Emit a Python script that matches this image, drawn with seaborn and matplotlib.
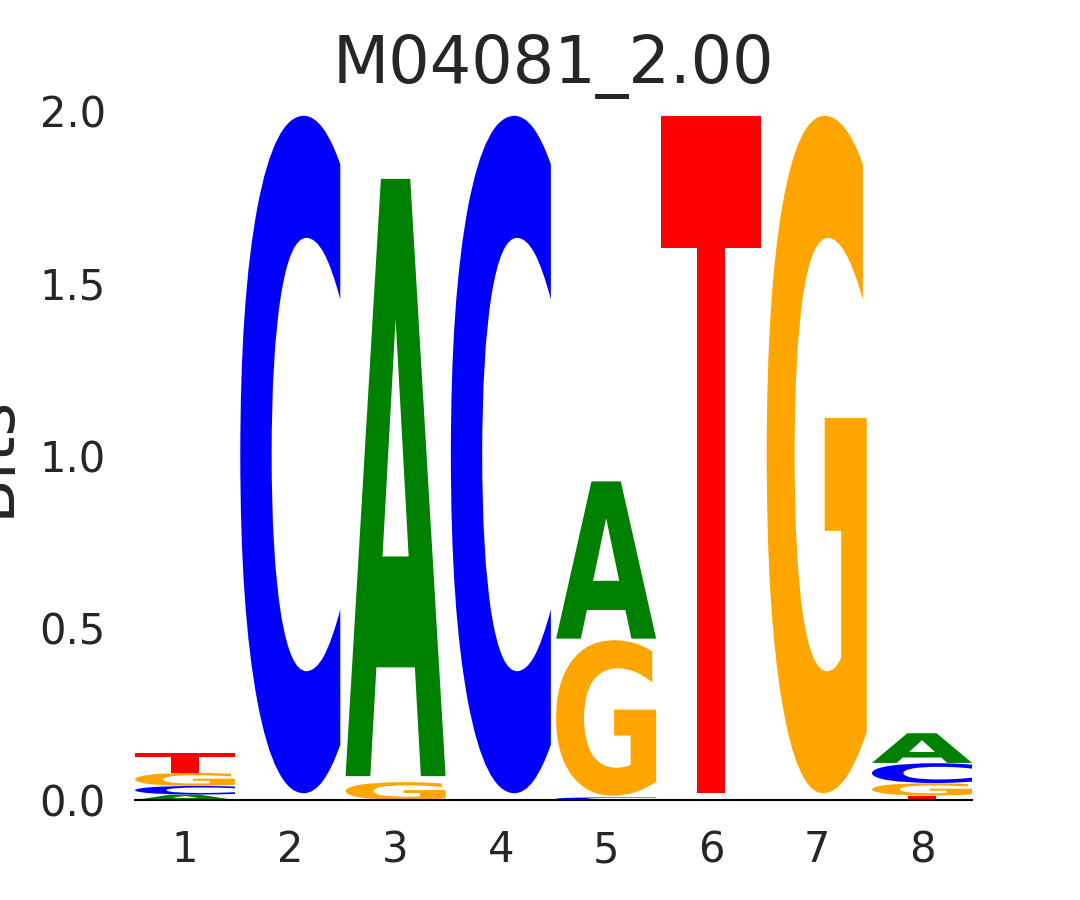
import numpy as np
import pandas as pd
import matplotlib
matplotlib.use("Agg")
import matplotlib.pyplot as plt
import seaborn as sns
from matplotlib.textpath import TextPath
from matplotlib.patches import PathPatch
from matplotlib.font_manager import FontProperties
from matplotlib.transforms import Affine2D

# information (bits) per letter at each motif position
positions = [1, 2, 3, 4, 5, 6, 7, 8]
bits_A = [0.016, 0.0, 1.751, 0.0, 0.461, 0.0, 0.0, 0.087]
bits_C = [0.025, 1.986, 0.0, 1.986, 0.008, 0.0, 0.0, 0.058]
bits_G = [0.038, 0.0, 0.052, 0.0, 0.456, 0.0, 1.986, 0.036]
bits_T = [0.058, 0.0, 0.0, 0.0, 0.0, 1.986, 0.0, 0.013]

letter_colors = {"A": "green", "C": "blue", "G": "orange", "T": "red"}
title = "M04081_2.00"

df = pd.DataFrame({"A": bits_A, "C": bits_C, "G": bits_G, "T": bits_T}, index=positions)

sns.set_theme(style="white")
plt.rcParams["font.family"] = ["DejaVu Sans"]

fig = plt.figure(figsize=(10.8, 9), dpi=100)
ax = fig.add_axes([0.125, 0.111, 0.775, 0.7657])

font = FontProperties(family="DejaVu Sans", weight="bold")
width = 0.95
vpad = 0.01


def draw_letter(ax, char, x, bottom, height, color):
    path = TextPath((0, 0), char, size=1, prop=font)
    ext = path.get_extents()
    gh = height * (1 - vpad)
    tr = (Affine2D()
          .translate(-ext.x0, -ext.y0)
          .scale(width / ext.width, gh / ext.height)
          .translate(x - width / 2, bottom + height * vpad))
    patch = PathPatch(tr.transform_path(path), facecolor=color,
                      edgecolor="none", lw=0)
    ax.add_patch(patch)


for pos, row in df.iterrows():
    bottom = 0.0
    for char, h in row.sort_values().items():
        if h <= 0:
            continue
        draw_letter(ax, char, pos, bottom, h, letter_colors[char])
        bottom += h

ax.set_xlim(0.525, 8.475)
ax.set_ylim(0, 2.0)
ax.set_xticks(positions)
ax.set_xticklabels([str(p) for p in positions])
ax.set_yticks([0.0, 0.5, 1.0, 1.5, 2.0])
ax.set_yticklabels(["0.0", "0.5", "1.0", "1.5", "2.0"])
ax.tick_params(axis="both", length=0, pad=21, labelsize=30, colors=".15")

for side in ["top", "right", "left"]:
    ax.spines[side].set_visible(False)
ax.spines["bottom"].set_color("black")
ax.spines["bottom"].set_linewidth(1.5)

ax.set_ylabel("Bits", fontsize=47, color=".15", labelpad=12)
ax.set_title(title, fontsize=47, color=".15", pad=20)

fig.savefig("out.png", dpi=100)
